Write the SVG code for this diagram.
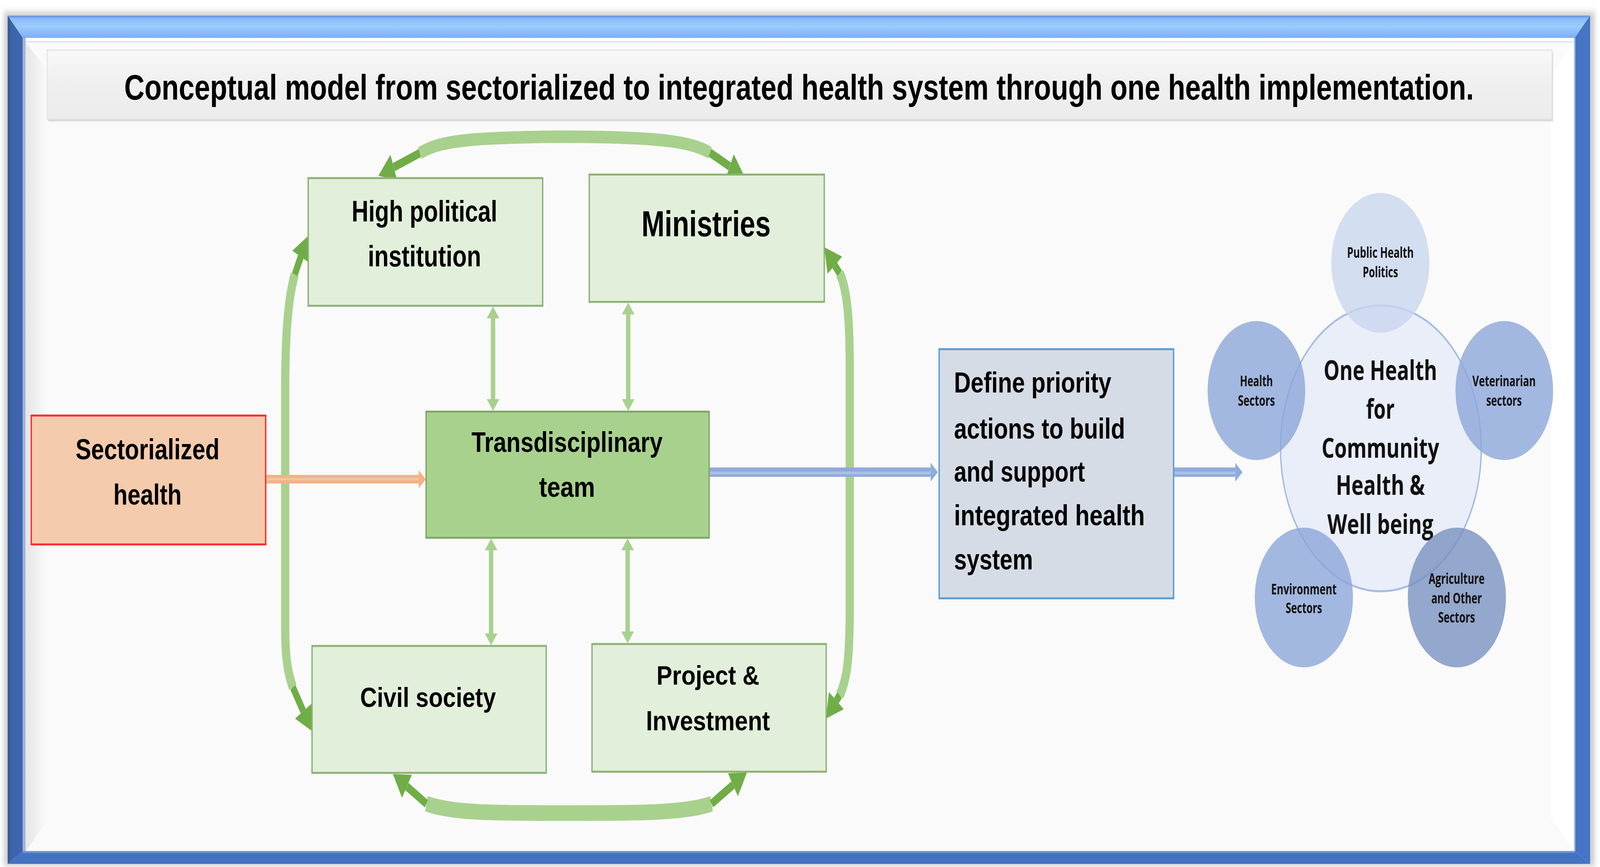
<svg xmlns="http://www.w3.org/2000/svg" width="5835" height="2220" viewBox="0 0 5835 2220" preserveAspectRatio="none">
<style>
:root{width:100vw;height:100vh}
.lbl{font-family:"Liberation Sans",Arial,sans-serif;font-weight:700;fill:#000}
.mid{text-anchor:middle}
.oh{font-family:"Open Sans","Noto Sans",sans-serif;font-weight:700;fill:#111;text-anchor:middle}
.gbox{fill:#e2efda;stroke:#8cb274;stroke-width:5}
.shaft{fill:none;stroke:#a9d18e;stroke-linecap:butt}
.dark{fill:none;stroke:#70ad47;stroke-width:22}
.head{fill:#70ad47}
.vline{stroke:#a9d18e;stroke-width:16}
.sat{fill-opacity:0.78}
</style>
<defs>
<linearGradient id="topband" x1="0" y1="0" x2="0" y2="1">
<stop offset="0" stop-color="#5f8fe0"/>
<stop offset="0.15" stop-color="#8fbef8"/>
<stop offset="0.5" stop-color="#9ccbfd"/>
<stop offset="1" stop-color="#7eaef3"/>
</linearGradient>
<linearGradient id="leftband" x1="0" y1="0" x2="1" y2="0">
<stop offset="0" stop-color="#34558f"/>
<stop offset="0.25" stop-color="#3d63a9"/>
<stop offset="1" stop-color="#3f66ad"/>
</linearGradient>
<linearGradient id="innerleft" x1="0" y1="0" x2="1" y2="0">
<stop offset="0" stop-color="#e6e6e6"/>
<stop offset="1" stop-color="#fafafa"/>
</linearGradient>
<linearGradient id="titlefill" x1="0" y1="0" x2="0" y2="1">
<stop offset="0" stop-color="#f8f8f8"/>
<stop offset="0.5" stop-color="#efefef"/>
<stop offset="1" stop-color="#ececec"/>
</linearGradient>
<filter id="blur" x="-5%" y="-5%" width="110%" height="110%">
<feGaussianBlur stdDeviation="8"/>
</filter>
<marker id="mGreen" markerUnits="userSpaceOnUse" markerWidth="32" markerHeight="46" refX="0" refY="23" orient="auto-start-reverse">
<path d="M0,0 L30,23 L0,46 Z" fill="#a9d18e"/>
</marker>
<marker id="mOrange" markerUnits="userSpaceOnUse" markerWidth="28" markerHeight="48" refX="0" refY="24" orient="auto">
<path d="M0,1 L26,24 L0,47 Z" fill="#f4b183"/>
</marker>
<marker id="mBlue" markerUnits="userSpaceOnUse" markerWidth="28" markerHeight="50" refX="0" refY="25" orient="auto">
<path d="M0,1 L26,25 L0,49 Z" fill="#8faadc"/>
</marker>
</defs>

<rect width="5835" height="2220" fill="#ffffff"/>

<g id="frame">
<rect x="14" y="30" width="5802" height="2188" fill="#cfcfcf" filter="url(#blur)"/>
<rect x="28" y="40" width="5771" height="2172" fill="#fafafa"/>
<polygon points="83,97 5743,97 5743,2180 83,2180" fill="#fafafa"/>
<polygon points="94,108 172,180 172,2100 94,2180" fill="url(#innerleft)"/>
<polygon points="5741,108 5657,190 5657,2095 5741,2180" fill="#ffffff"/>
<rect x="83" y="97" width="5660" height="8" fill="#ffffff"/>
<rect x="83" y="105" width="5660" height="4" fill="#dce8fa"/>
<polygon points="28,40 5799,40 5743,97 83,97" fill="url(#topband)"/>
<polygon points="28,40 83,97 83,2180 28,2212" fill="url(#leftband)"/>
<rect x="83" y="97" width="10" height="2083" fill="#9fb3da"/>
<polygon points="5799,40 5799,2212 5743,2180 5743,97" fill="#4573c5"/>
<rect x="5741" y="97" width="5" height="2083" fill="#8fa9dc"/>
<polygon points="28,2212 5799,2212 5743,2180 83,2180" fill="#4272c2"/>
<rect x="83" y="2179" width="5660" height="5" fill="#6f93d3"/>
</g>

<g id="title">
<rect x="176" y="134" width="5488" height="177" fill="#dcdcdc"/>
<rect x="172" y="128" width="5488" height="177" fill="url(#titlefill)" stroke="#e2e2e2" stroke-width="3"/>
<text class="lbl mid" x="2914" y="255" font-size="90" textLength="4922" lengthAdjust="spacingAndGlyphs">Conceptual model from sectorialized to integrated health system through one health implementation.</text>
</g>

<g id="connectors">
<path class="shaft" stroke-width="32" d="M1531,392 C1600,362 1700,352 2040,350 C2400,350 2520,362 2589,391"/>
<path class="dark" d="M1531,392 L1436,428"/>
<path class="dark" d="M2589,391 L2661,426"/>
<polygon class="head" points="1380,450 1448,461 1424,396"/>
<polygon class="head" points="2715,452 2646,458 2676,395"/>
<path class="shaft" stroke-width="30" d="M1075,703 C1052,760 1040,850 1040,1000 L1040,1600 C1040,1680 1048,1720 1068,1760"/>
<path class="dark" d="M1075,703 L1097,657"/>
<path class="dark" d="M1068,1760 L1106,1821"/>
<polygon class="head" points="1124,604 1128,673 1066,642"/>
<polygon class="head" points="1138,1872 1136,1802 1076,1840"/>
<path class="shaft" stroke-width="30" d="M3062,700 C3090,740 3099,820 3099,950 L3099,1550 C3099,1680 3090,1740 3062,1780"/>
<path class="dark" d="M3062,700 L3044,679"/>
<path class="dark" d="M3062,1780 L3050,1794"/>
<polygon class="head" points="3006,633 3071,657 3018,701"/>
<polygon class="head" points="3012,1840 3077,1816 3023,1772"/>
<path class="shaft" stroke-width="40" d="M1555,2058 C1650,2082 1800,2082 2065,2082 C2330,2082 2500,2082 2595,2058"/>
<path class="dark" d="M1555,2058 L1484,2014"/>
<path class="dark" d="M2595,2058 L2673,2010"/>
<polygon class="head" points="1433,1982 1502,1984 1466,2043"/>
<polygon class="head" points="2724,1978 2691,2039 2655,1980"/>
<line class="vline" x1="1798" y1="815" x2="1798" y2="1022" marker-start="url(#mGreen)" marker-end="url(#mGreen)"/>
<line class="vline" x1="2291" y1="805" x2="2291" y2="1022" marker-start="url(#mGreen)" marker-end="url(#mGreen)"/>
<line class="vline" x1="1791" y1="1409" x2="1791" y2="1622" marker-start="url(#mGreen)" marker-end="url(#mGreen)"/>
<line class="vline" x1="2289" y1="1409" x2="2289" y2="1617" marker-start="url(#mGreen)" marker-end="url(#mGreen)"/>
<line x1="969" y1="1227" x2="1527" y2="1227" stroke="#f4b183" stroke-width="22" marker-end="url(#mOrange)"/>
<line x1="969" y1="1227" x2="1527" y2="1227" stroke="#f6c3a0" stroke-width="6"/>
<line x1="2586" y1="1209" x2="3394" y2="1209" stroke="#8faadc" stroke-width="24" marker-end="url(#mBlue)"/>
<line x1="2586" y1="1211" x2="3394" y2="1211" stroke="#abbfe6" stroke-width="7"/>
<line x1="4280" y1="1209" x2="4505" y2="1209" stroke="#8faadc" stroke-width="24" marker-end="url(#mBlue)"/>
<line x1="4280" y1="1211" x2="4505" y2="1211" stroke="#abbfe6" stroke-width="7"/>
</g>

<g id="sectorialized">
<rect x="114" y="1064" width="855" height="330" fill="#f5cbad" stroke="#ff2a2a" stroke-width="5"/>
<text class="lbl mid" x="538" y="1176" font-size="74" textLength="525" lengthAdjust="spacingAndGlyphs">Sectorialized</text>
<text class="lbl mid" x="538" y="1292" font-size="74" textLength="249" lengthAdjust="spacingAndGlyphs">health</text>
</g>

<g id="high-political">
<rect class="gbox" x="1124" y="456" width="855" height="327"/>
<text class="lbl mid" x="1548" y="567" font-size="76" textLength="531" lengthAdjust="spacingAndGlyphs">High political</text>
<text class="lbl mid" x="1548" y="682" font-size="76" textLength="413" lengthAdjust="spacingAndGlyphs">institution</text>
</g>

<g id="ministries">
<rect class="gbox" x="2149" y="447" width="857" height="326"/>
<text class="lbl mid" x="2575" y="605" font-size="93" textLength="471" lengthAdjust="spacingAndGlyphs">Ministries</text>
</g>

<g id="transdisciplinary">
<rect x="1554" y="1054" width="1032" height="323" fill="#a9d18e" stroke="#80a865" stroke-width="5"/>
<text class="lbl mid" x="2068" y="1157" font-size="73" textLength="697" lengthAdjust="spacingAndGlyphs">Transdisciplinary</text>
<text class="lbl mid" x="2068" y="1272" font-size="73" textLength="204" lengthAdjust="spacingAndGlyphs">team</text>
</g>

<g id="civil-society">
<rect class="gbox" x="1138" y="1654" width="854" height="325"/>
<text class="lbl mid" x="1561" y="1810" font-size="70" textLength="495" lengthAdjust="spacingAndGlyphs">Civil society</text>
</g>

<g id="project-investment">
<rect class="gbox" x="2159" y="1649" width="854" height="327"/>
<text class="lbl mid" x="2582" y="1753" font-size="68" textLength="375" lengthAdjust="spacingAndGlyphs">Project &amp;</text>
<text class="lbl mid" x="2582" y="1870" font-size="70" textLength="452" lengthAdjust="spacingAndGlyphs">Investment</text>
</g>

<g id="define-priority">
<rect x="3425" y="894" width="855" height="638" fill="#d6dce5" stroke="#5b9bd5" stroke-width="5"/>
<text class="lbl" x="3479" y="1005" font-size="74" textLength="574" lengthAdjust="spacingAndGlyphs">Define priority</text>
<text class="lbl" x="3479" y="1123" font-size="74" textLength="624" lengthAdjust="spacingAndGlyphs">actions to build</text>
<text class="lbl" x="3479" y="1233" font-size="74" textLength="478" lengthAdjust="spacingAndGlyphs">and support</text>
<text class="lbl" x="3479" y="1345" font-size="74" textLength="696" lengthAdjust="spacingAndGlyphs">integrated health</text>
<text class="lbl" x="3479" y="1458" font-size="74" textLength="288" lengthAdjust="spacingAndGlyphs">system</text>
</g>

<g id="one-health">
<circle cx="5036" cy="1148" r="366" fill="#e9eef8" stroke="#a4bce6" stroke-width="5"/>
<text class="oh" x="5034" y="973" font-size="70" textLength="414" lengthAdjust="spacingAndGlyphs">One Health</text>
<text class="oh" x="5034" y="1072" font-size="70" textLength="104" lengthAdjust="spacingAndGlyphs">for</text>
<text class="oh" x="5034" y="1172" font-size="70" textLength="429" lengthAdjust="spacingAndGlyphs">Community</text>
<text class="oh" x="5034" y="1267" font-size="70" textLength="325" lengthAdjust="spacingAndGlyphs">Health &amp;</text>
<text class="oh" x="5034" y="1367" font-size="70" textLength="387" lengthAdjust="spacingAndGlyphs">Well being</text>
</g>

<g id="public-health-politics">
<circle class="sat" cx="5034" cy="673" r="179" fill="#c9d6ee"/>
<text class="oh" x="5034" y="660" font-size="38" textLength="243" lengthAdjust="spacingAndGlyphs">Public Health</text>
<text class="oh" x="5034" y="710" font-size="38" textLength="129" lengthAdjust="spacingAndGlyphs">Politics</text>
</g>

<g id="health-sectors">
<circle class="sat" cx="4582" cy="1000" r="178" fill="#8aa5d8"/>
<text class="oh" x="4582" y="989" font-size="38" textLength="120" lengthAdjust="spacingAndGlyphs">Health</text>
<text class="oh" x="4582" y="1039" font-size="38" textLength="135" lengthAdjust="spacingAndGlyphs">Sectors</text>
</g>

<g id="veterinarian-sectors">
<circle class="sat" cx="5486" cy="1000" r="178" fill="#8aa5d8"/>
<text class="oh" x="5485" y="989" font-size="38" textLength="231" lengthAdjust="spacingAndGlyphs">Veterinarian</text>
<text class="oh" x="5485" y="1039" font-size="38" textLength="130" lengthAdjust="spacingAndGlyphs">sectors</text>
</g>

<g id="environment-sectors">
<circle class="sat" cx="4755" cy="1530" r="179" fill="#8aa5d8"/>
<text class="oh" x="4755" y="1522" font-size="38" textLength="239" lengthAdjust="spacingAndGlyphs">Environment</text>
<text class="oh" x="4755" y="1570" font-size="38" textLength="133" lengthAdjust="spacingAndGlyphs">Sectors</text>
</g>

<g id="agriculture-sectors">
<circle class="sat" cx="5313" cy="1530" r="179" fill="#7790bf"/>
<text class="oh" x="5312" y="1495" font-size="38" textLength="204" lengthAdjust="spacingAndGlyphs">Agriculture</text>
<text class="oh" x="5312" y="1545" font-size="38" textLength="184" lengthAdjust="spacingAndGlyphs">and Other</text>
<text class="oh" x="5312" y="1594" font-size="38" textLength="135" lengthAdjust="spacingAndGlyphs">Sectors</text>
</g>
</svg>
